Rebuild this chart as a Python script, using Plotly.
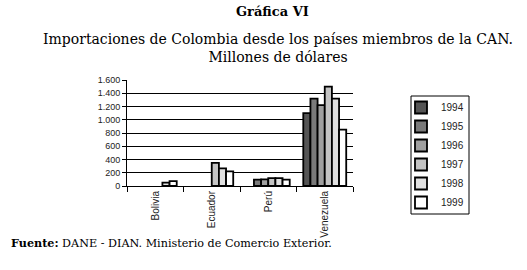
import plotly.graph_objects as go

countries = ["Bolivia", "Ecuador", "Perú", "Venezuela"]
years = ["1994", "1995", "1996", "1997", "1998", "1999"]
v1994 = [None, None, None, 1100]
v1995 = [None, None, 95, 1320]
v1996 = [None, None, 100, 1220]
v1997 = [None, 350, 120, 1500]
v1998 = [50, 265, 118, 1320]
v1999 = [75, 220, 95, 850]
series = [v1994, v1995, v1996, v1997, v1998, v1999]
colors = ["#555555", "#7a7a7a", "#a0a0a0", "#c4c4c4", "#e0e0e0", "#ffffff"]

W, H = 527, 270
L, R, T, B = 127, 353, 80, 186
pw, ph = R - L, B - T

def px(x):
    return (x - L) / pw

def py(y):
    return (B - y) / ph

fig = go.Figure()
for yr, vals, c in zip(years, series, colors):
    fig.add_trace(go.Bar(
        x=countries, y=vals, name=yr,
        marker=dict(color=c, line=dict(color="black", width=1.8)),
    ))

fig.update_layout(
    width=W, height=H,
    margin=dict(l=L, r=W - R, t=T, b=H - B, pad=0, autoexpand=False),
    paper_bgcolor="white", plot_bgcolor="white",
    barmode="group", bargap=0.24, bargroupgap=0,
    separators=",.",
    showlegend=True,
    legend=dict(
        x=px(401), y=py(93), xanchor="left", yanchor="top",
        borderwidth=0, bgcolor="rgba(0,0,0,0)",
        font=dict(family="Liberation Sans, Arial", size=10, color="#222"),
        tracegroupgap=0, traceorder="normal", maxheight=220,
        itemwidth=30,
    ),
    xaxis=dict(
        type="category", showgrid=False, showline=True, linecolor="black", linewidth=1,
        tickangle=-90, tickson="boundaries", ticks="outside", ticklen=5, tickcolor="black",
        tickfont=dict(family="Liberation Sans, Arial", size=10, color="#222"),
        fixedrange=True, automargin=False,
    ),
    yaxis=dict(
        range=[0, 1600], dtick=200, tickformat=",d",
        showgrid=True, gridcolor="black", gridwidth=1,
        showline=True, linecolor="black", linewidth=1,
        ticks="outside", ticklen=4, tickcolor="black",
        tickfont=dict(family="Liberation Sans, Arial", size=9, color="#222"),
        zeroline=False, fixedrange=True, automargin=False,
    ),
    font=dict(family="Liberation Sans, Arial", color="#222"),
)

# legend frame
fig.add_shape(
    type="rect", xref="paper", yref="paper",
    x0=px(411), x1=px(469), y0=py(214), y1=py(96),
    line=dict(color="black", width=1), fillcolor="rgba(0,0,0,0)", layer="below",
)

fig.add_annotation(
    text="<b>Gráfica VI</b>", xref="paper", yref="paper",
    x=px(272), y=py(12), xanchor="center", yanchor="middle", showarrow=False,
    font=dict(family="DejaVu Serif", size=13, color="black"),
)
fig.add_annotation(
    text="Importaciones de Colombia desde los países miembros de la CAN.<br>Millones de dólares",
    xref="paper", yref="paper", align="center",
    x=px(278), y=py(47.5), xanchor="center", yanchor="middle", showarrow=False,
    font=dict(family="DejaVu Serif", size=14, color="black"),
)
fig.add_annotation(
    text="<b>Fuente:</b> DANE - DIAN. Ministerio de Comercio Exterior.",
    xref="paper", yref="paper", align="left",
    x=px(9), y=py(243), xanchor="left", yanchor="middle", showarrow=False,
    font=dict(family="DejaVu Serif", size=11.2, color="black"),
)

fig.write_html(
    "out.html",
    config={"displayModeBar": False},
    post_script="document.body.style.margin='0';document.body.style.padding='0';",
)
